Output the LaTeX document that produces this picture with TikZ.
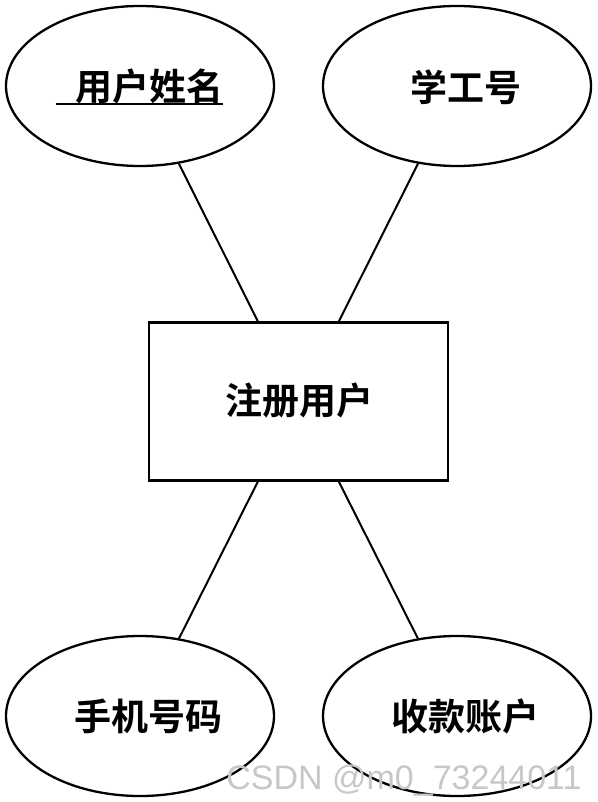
\documentclass[tikz,border=0pt]{standalone}
\usepackage{fontspec}
\usetikzlibrary{shapes.geometric,calc}
\newfontfamily\cjk{Noto Sans CJK SC Bold}
\newfontfamily\wmfont{Liberation Sans}
\begin{document}
\begin{tikzpicture}[x=1pt,y=-1pt,
  attr/.style={ellipse,draw,line width=2.3pt,minimum width=268pt,minimum height=160pt,inner sep=0pt},
  ent/.style={rectangle,draw,line width=2.3pt,minimum width=299pt,minimum height=158pt,inner sep=0pt},
  lbl/.style={font=\cjk\fontsize{37}{42}\selectfont,inner sep=0pt},
  conn/.style={line width=2pt}]
\useasboundingbox (0,0) rectangle (597,802);
\node[attr] (uname) at (140,86) {};
\node[attr] (sno) at (457,86) {};
\node[attr] (phone) at (140,716) {};
\node[attr] (acct) at (457,716) {};
\node[ent] (reg) at (298.5,401.5) {};
\node[lbl] (tuname) at (139.5,86) {\hspace{19pt}用户姓名};
\draw[line width=2pt] ($(tuname.base west)+(0,4)$) -- ($(tuname.base east)+(0,4)$);
\node[lbl] (tsno) at (466,87) {学工号};
\node[lbl] (treg) at (299,401) {注册用户};
\node[lbl] (tphone) at (148,716) {手机号码};
\node[lbl] (tacct) at (465,716) {收款账户};
\coordinate (rtl) at ($(reg.north west)+(110,0)$);
\coordinate (rtr) at ($(reg.north west)+(191,0)$);
\coordinate (rbl) at ($(reg.south west)+(110,0)$);
\coordinate (rbr) at ($(reg.south west)+(191,0)$);
\draw[conn] (rtl) -- (uname);
\draw[conn] (rtr) -- (sno);
\draw[conn] (rbl) -- (phone);
\draw[conn] (rbr) -- (acct);
\node[font=\wmfont\fontsize{34}{40}\selectfont,text=black!22,inner sep=0pt,anchor=base] (wm) at (404,789) {CSDN @m0\_73244011};
\end{tikzpicture}
\end{document}
